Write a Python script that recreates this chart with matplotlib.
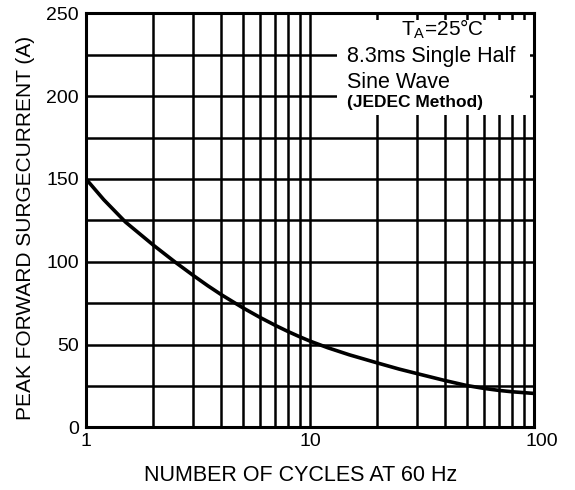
import matplotlib
matplotlib.use('Agg')
import matplotlib.pyplot as plt
import matplotlib.ticker as mticker
import matplotlib.transforms as mtrans
from matplotlib.patches import Rectangle

plt.rcParams['font.family'] = ['Liberation Sans', 'DejaVu Sans']
plt.rcParams['mathtext.default'] = 'regular'

# surge curve
cycles  = [1, 1.2, 1.5, 1.75, 2, 2.5, 3, 3.5, 4, 5, 6, 7, 8, 9, 10, 12, 15, 20,
           25, 30, 40, 50, 60, 70, 80, 100]
current = [150, 137.5, 124, 116.5, 110, 99.8, 91.9, 85.5, 80.3, 72.3, 66.3, 61.6,
           57.8, 54.7, 52.1, 48.1, 43.8, 38.9, 35.2, 32.5, 28.3, 25.3, 23.5, 22.3,
           21.5, 20.5]

y_ticks = [0, 50, 100, 150, 200, 250]
y_grid  = list(range(0, 251, 25))
x_ticks = [1, 10, 100]
x_grid  = [1, 2, 3, 4, 5, 6, 7, 8, 9, 10, 20, 30, 40, 50, 60, 70, 80, 90, 100]

fig = plt.figure(figsize=(5.75, 4.9), dpi=100)
fig.patch.set_facecolor("white")
ax = fig.add_axes([0.1496, 0.1278, 0.7791, 0.8449])

ax.set_xscale("log")
ax.set_xlim(1, 100)
ax.set_ylim(0, 250)

# black grid every 25 A and every cycle step
for yv in y_grid:
    ax.axhline(yv, color="black", lw=1.8, zorder=1)
for xv in x_grid:
    ax.axvline(xv, color="black", lw=1.8, zorder=1)

# white box behind the conditions text
ax.add_patch(Rectangle((13.2, 188.6), 96 - 13.2, 246 - 188.6,
                       facecolor="white", edgecolor="none", zorder=2))

ax.plot(cycles, current, color="black", lw=2.6, zorder=3,
        solid_capstyle="round", solid_joinstyle="round")

ax.set_xticks(x_ticks)
ax.xaxis.set_major_formatter(mticker.FuncFormatter(lambda v, _: f"{v:g}"))
ax.xaxis.set_minor_locator(mticker.NullLocator())
ax.set_yticks(y_ticks)
ax.tick_params(length=0, labelsize=14, colors="black")
ax.tick_params(axis="x", pad=4)
ax.tick_params(axis="y", pad=5)

# the "100" sits a bit right of its line in the original
last = ax.get_xticklabels()[-1]
last.set_transform(last.get_transform() +
                   mtrans.ScaledTranslation(0.075, 0, fig.dpi_scale_trans))

for sp in ax.spines.values():
    sp.set_linewidth(2.2)
    sp.set_zorder(4)

fig.text(301 / 575, 1 - 475 / 490, "NUMBER OF CYCLES AT 60 Hz", fontsize=15.5,
         ha="center", va="center")
fig.text(26 / 575, 1 - 228 / 490, "PEAK FORWARD SURGECURRENT (A)", fontsize=15,
         ha="center", va="center", rotation=90)

# conditions
ax.text(0.797, 0.962, "T$_{A}$=25°C", transform=ax.transAxes, fontsize=15,
        ha="center", va="center", zorder=5)
ax.text(0.5826, 0.895, "8.3ms Single Half", transform=ax.transAxes, fontsize=15.5,
        ha="left", va="center", zorder=5)
ax.text(0.5826, 0.834, "Sine Wave", transform=ax.transAxes, fontsize=15.5,
        ha="left", va="center", zorder=5)
ax.text(0.5826, 0.784, "(JEDEC Method)", transform=ax.transAxes, fontsize=12.5,
        ha="left", va="center", fontweight="bold", zorder=5)

plt.savefig("out.png", dpi=100, facecolor="white")
plt.close()
